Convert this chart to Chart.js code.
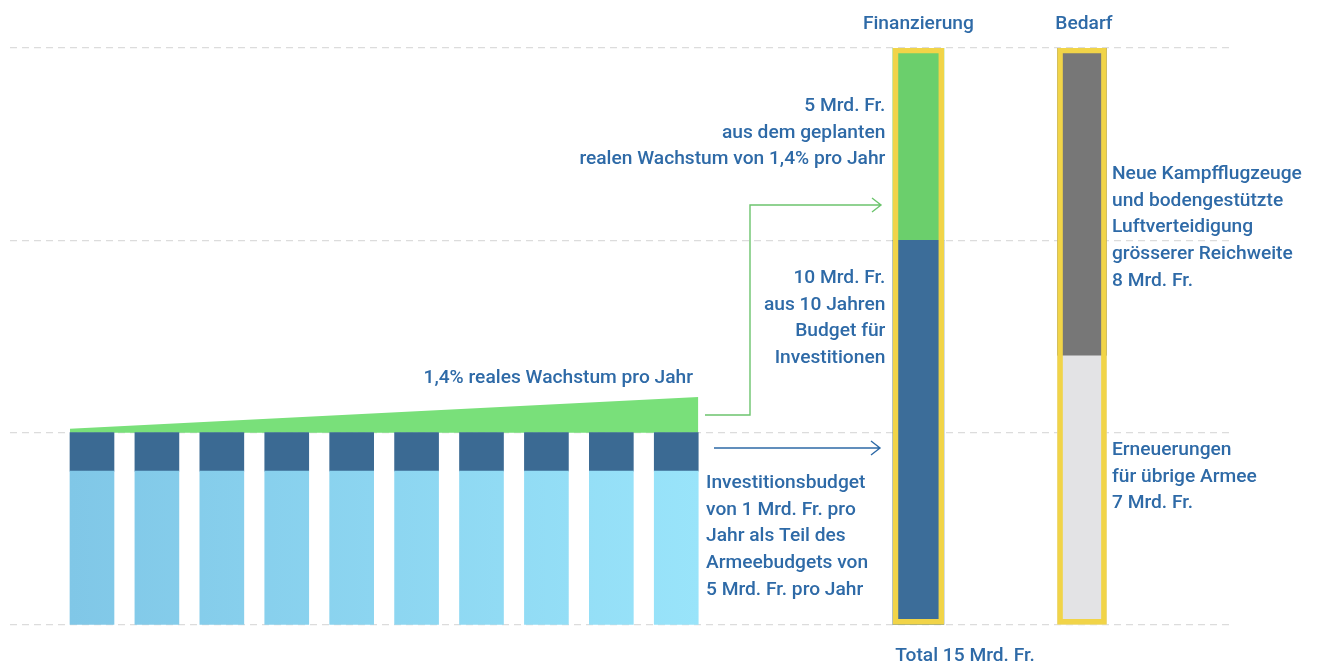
<!DOCTYPE html>
<html>
<head>
<meta charset="utf-8">
<script src="https://cdn.jsdelivr.net/npm/chart.js@4.4.1/dist/chart.umd.min.js"></script>
<style>
  html, body { margin: 0; background: #fff; }
  #wrap { width: 1321px; height: 667px; position: relative; }
</style>
</head>
<body>
<div id="wrap"><canvas id="chart"></canvas></div>
<script>
// data (Mrd. Fr.)
const years = ['Jahr 1', 'Jahr 2', 'Jahr 3', 'Jahr 4', 'Jahr 5', 'Jahr 6', 'Jahr 7', 'Jahr 8', 'Jahr 9', 'Jahr 10'];
const armeeUebrig = [4, 4, 4, 4, 4, 4, 4, 4, 4, 4];      // Armeebudget ohne Investitionen
const investitionen = [1, 1, 1, 1, 1, 1, 1, 1, 1, 1];    // Investitionsbudget pro Jahr
const wachstumKeil = [5.1, 5.93];                        // Oberkante des Wachstumskeils (Anfang, Ende)
const finanzierung = [10, 5];                            // Budget, Wachstum
const bedarf = [7, 8];                                   // Erneuerungen, Kampfflugzeuge/Luftverteidigung
const yTicks = [0, 5, 10, 15];

// layout
const finSlot = 13.73, bedSlot = 16.25, halfBar = 0.34;
const textBlue = '#2e6aa7';

const sum = arr => arr.reduce((a, b) => a + b, 0);
const total = sum(finanzierung);

const yearPts = vals => vals.map((v, i) => ({ x: i + 1, y: v }));

function lightBlue(context) {
  const { ctx, chartArea } = context.chart;
  if (!chartArea) return '#8fd8f2';
  const g = ctx.createLinearGradient(70, 0, 700, 0);
  g.addColorStop(0, '#80c7e7');
  g.addColorStop(1, '#99e4fa');
  return g;
}

const annotations = {
  id: 'annotations',
  afterDatasetsDraw(chart) {
    const { ctx, scales: { x } } = chart;
    const finX = x.getPixelForValue(finSlot);
    const bedX = x.getPixelForValue(bedSlot);
    const lh = 26.7;
    ctx.save();
    ctx.font = '500 19.2px Roboto';
    ctx.fillStyle = textBlue;
    ctx.textBaseline = 'middle';

    const block = (lines, px, py, align) => {
      ctx.textAlign = align;
      lines.forEach((t, i) => ctx.fillText(t, px, py + i * lh));
    };

    block(['Finanzierung'], finX, 24, 'center');
    block(['Bedarf'], bedX + 2, 24, 'center');
    block(['Total ' + total + ' Mrd. Fr.'], 965, 656, 'center');

    block([finanzierung[1] + ' Mrd. Fr.', 'aus dem geplanten', 'realen Wachstum von 1,4% pro Jahr'], finX - 33, 106, 'right');
    block([finanzierung[0] + ' Mrd. Fr.', 'aus 10 Jahren', 'Budget für', 'Investitionen'], finX - 33, 278, 'right');
    block(['1,4% reales Wachstum pro Jahr'], 693, 378, 'right');
    block(['Investitionsbudget', 'von 1 Mrd. Fr. pro', 'Jahr als Teil des', 'Armeebudgets von', '5 Mrd. Fr. pro Jahr'], 706, 483, 'left');
    block(['Neue Kampfflugzeuge', 'und bodengestützte', 'Luftverteidigung', 'grösserer Reichweite', bedarf[1] + ' Mrd. Fr.'], bedX + 30, 174, 'left');
    block(['Erneuerungen', 'für übrige Armee', bedarf[0] + ' Mrd. Fr.'], bedX + 30, 450, 'left');

    // arrows
    ctx.lineWidth = 1.4;
    ctx.strokeStyle = '#6cc46d';
    ctx.beginPath();
    ctx.moveTo(705, 415); ctx.lineTo(750, 415); ctx.lineTo(750, 205); ctx.lineTo(881, 205);
    ctx.moveTo(872, 198); ctx.lineTo(881, 205); ctx.lineTo(872, 212);
    ctx.stroke();

    ctx.strokeStyle = textBlue;
    ctx.beginPath();
    ctx.moveTo(714, 448); ctx.lineTo(880, 448);
    ctx.moveTo(871, 441); ctx.lineTo(880, 448); ctx.lineTo(871, 455);
    ctx.stroke();
    ctx.restore();
  }
};

const barBase = { type: 'bar', grouped: false, borderWidth: 0, stack: 'main' };

new Chart(document.getElementById('chart'), {
  data: {
    datasets: [
      { ...barBase, label: 'Rahmen Finanzierung', stack: 'frame', order: -1, barThickness: 51,
        data: [{ x: finSlot, y: sum(finanzierung) }],
        backgroundColor: 'rgba(0,0,0,0)', borderColor: '#f1d448', borderWidth: 5, borderSkipped: false },
      { ...barBase, label: 'Rahmen Bedarf', stack: 'frame', order: -1, barThickness: 49,
        data: [{ x: bedSlot, y: sum(bedarf) }],
        backgroundColor: 'rgba(0,0,0,0)', borderColor: '#f1d448', borderWidth: 5, borderSkipped: false },
      { ...barBase, label: 'Armeebudget', barThickness: 44, data: yearPts(armeeUebrig), backgroundColor: lightBlue },
      { ...barBase, label: 'Investitionsbudget', barThickness: 44, data: yearPts(investitionen), backgroundColor: '#3b6a93' },
      { ...barBase, label: 'Budget für Investitionen', barThickness: 51,
        data: [{ x: finSlot, y: finanzierung[0] }], backgroundColor: '#3c6d99' },
      { ...barBase, label: 'Reales Wachstum', barThickness: 51,
        data: [{ x: finSlot, y: finanzierung[1] }], backgroundColor: '#6bcf6c' },
      { ...barBase, label: 'Erneuerungen', barThickness: 49,
        data: [{ x: bedSlot, y: bedarf[0] }], backgroundColor: '#e3e3e5' },
      { ...barBase, label: 'Kampfflugzeuge', barThickness: 49,
        data: [{ x: bedSlot, y: bedarf[1] }], backgroundColor: '#777777' },
      { type: 'line', label: 'Wachstum', order: 1,
        data: [{ x: 1 - halfBar, y: wachstumKeil[0] }, { x: years.length + halfBar, y: wachstumKeil[1] }],
        borderWidth: 0, pointRadius: 0, tension: 0, fill: { value: 5 }, backgroundColor: '#79e07a' }
    ]
  },
  options: {
    responsive: true,
    maintainAspectRatio: false,
    animation: false,
    layout: { padding: { left: 10, right: 91, top: 48, bottom: 42 } },
    plugins: { legend: { display: false }, tooltip: { enabled: false } },
    scales: {
      x: { type: 'linear', min: -0.263, max: 18.53, offset: false, grid: { offset: false }, display: false },
      y: {
        stacked: true, min: 0, max: 15,
        afterBuildTicks: axis => { axis.ticks = yTicks.map(v => ({ value: v })); },
        ticks: { display: false },
        grid: { color: '#dcdcdc', lineWidth: 1.2, drawTicks: false },
        border: { display: false, dash: [7, 5] }
      }
    }
  },
  plugins: [annotations]
});
</script>
</body>
</html>
